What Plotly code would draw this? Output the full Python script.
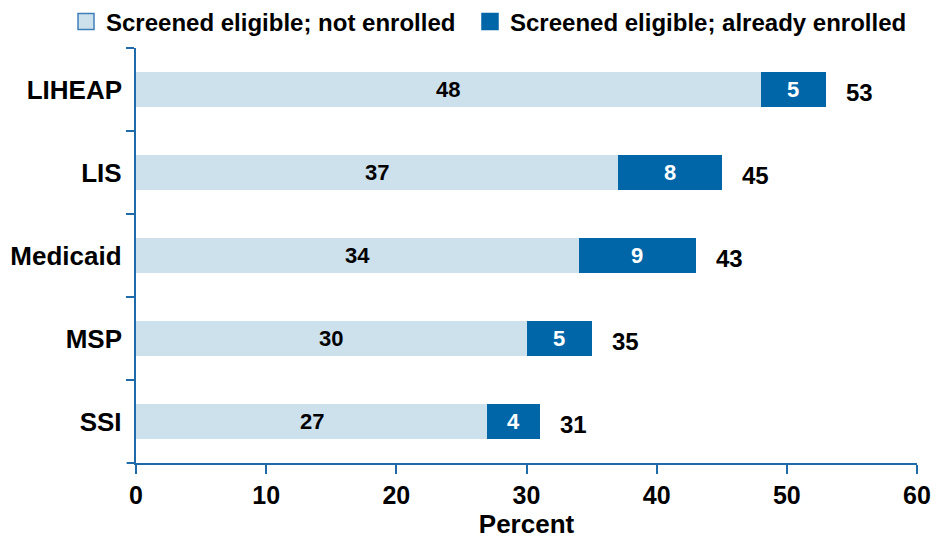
import plotly.graph_objects as go

categories = ["LIHEAP", "LIS", "Medicaid", "MSP", "SSI"]
not_enrolled = [48, 37, 34, 30, 27]
already_enrolled = [5, 8, 9, 5, 4]
totals = [53, 45, 43, 35, 31]
x_ticks = [0, 10, 20, 30, 40, 50, 60]
series_names = ["Screened eligible; not enrolled", "Screened eligible; already enrolled"]

FONT = "Liberation Sans, Arial, Helvetica, sans-serif"
LIGHT = "#cde1ed"
DARK = "#0066a8"
AXIS = "#1f6aa8"

W, H = 933, 532  # page body adds an 8px offset

fig = go.Figure()
fig.add_trace(go.Bar(
    y=categories, x=not_enrolled, orientation="h",
    name=series_names[0], showlegend=False,
    marker=dict(color=LIGHT, line=dict(width=0)),
    width=0.42,
))
fig.add_trace(go.Bar(
    y=categories, x=already_enrolled, orientation="h",
    name=series_names[1], showlegend=False,
    marker=dict(color=DARK, line=dict(width=0)),
    width=0.42,
))
# legend entries with larger square swatches
legend_spec = [(series_names[0], LIGHT, "#3f7fb8", "legend"),
               (series_names[1], DARK, DARK, "legend2")]
for name, col, edge, lg in legend_spec:
    fig.add_trace(go.Scatter(
        x=[None], y=[None], mode="markers", name=name, legend=lg,
        marker=dict(symbol="square", size=19, color=col, line=dict(color=edge, width=1.5)),
    ))

# value labels centred in each segment
for c, a, b in zip(categories, not_enrolled, already_enrolled):
    fig.add_annotation(x=a / 2, y=c, text=str(a), showarrow=False,
                       font=dict(size=22, family=FONT, color="black", weight="bold"))
    fig.add_annotation(x=a + b / 2, y=c, text=str(b), showarrow=False,
                       font=dict(size=22, family=FONT, color="white", weight="bold"))
# totals to the right of each bar
for c, t in zip(categories, totals):
    fig.add_annotation(x=t, y=c, text=str(t), showarrow=False,
                       xanchor="left", xshift=18, yshift=-3,
                       font=dict(size=24, family=FONT, color="black", weight="bold"))

# small extension of the x-axis line to the left of the y axis
fig.add_shape(type="line", xref="paper", yref="paper", x0=-0.012, x1=0, y0=0, y1=0,
              line=dict(color=AXIS, width=2))

legend_common = dict(orientation="h", yanchor="middle", y=1 - 14 / H, yref="container",
                     xref="container", xanchor="left",
                     font=dict(size=24, family=FONT, weight="bold", color="black"),
                     itemsizing="trace", bgcolor="rgba(0,0,0,0)")

fig.update_layout(
    width=W, height=H,
    barmode="stack",
    plot_bgcolor="white", paper_bgcolor="white",
    margin=dict(l=128, r=24, t=40, b=77, autoexpand=False),
    font=dict(family=FONT, size=24, color="black", weight="bold"),
    showlegend=True,
    legend=dict(x=58 / W, **legend_common),
    legend2=dict(x=462 / W, **legend_common),
    bargap=0.58,
)
fig.update_xaxes(
    range=[0, 60], tickvals=x_ticks, ticks="outside", ticklen=9, tickcolor=AXIS, tickwidth=1.5,
    showline=True, linecolor=AXIS, linewidth=2, showgrid=False, zeroline=False,
    title=dict(text="Percent", font=dict(size=26, family=FONT, weight="bold"), standoff=4),
    tickfont=dict(size=25, family=FONT, weight="bold"),
)
fig.update_yaxes(
    categoryorder="array", categoryarray=categories, autorange="reversed",
    ticks="outside", tickson="boundaries", ticklen=8, tickcolor=AXIS, tickwidth=1.5,
    showline=True, linecolor=AXIS, linewidth=2, showgrid=False,
    tickfont=dict(size=26, family=FONT, weight="bold"), ticksuffix=" ",
)

fig.write_html("out.html")
